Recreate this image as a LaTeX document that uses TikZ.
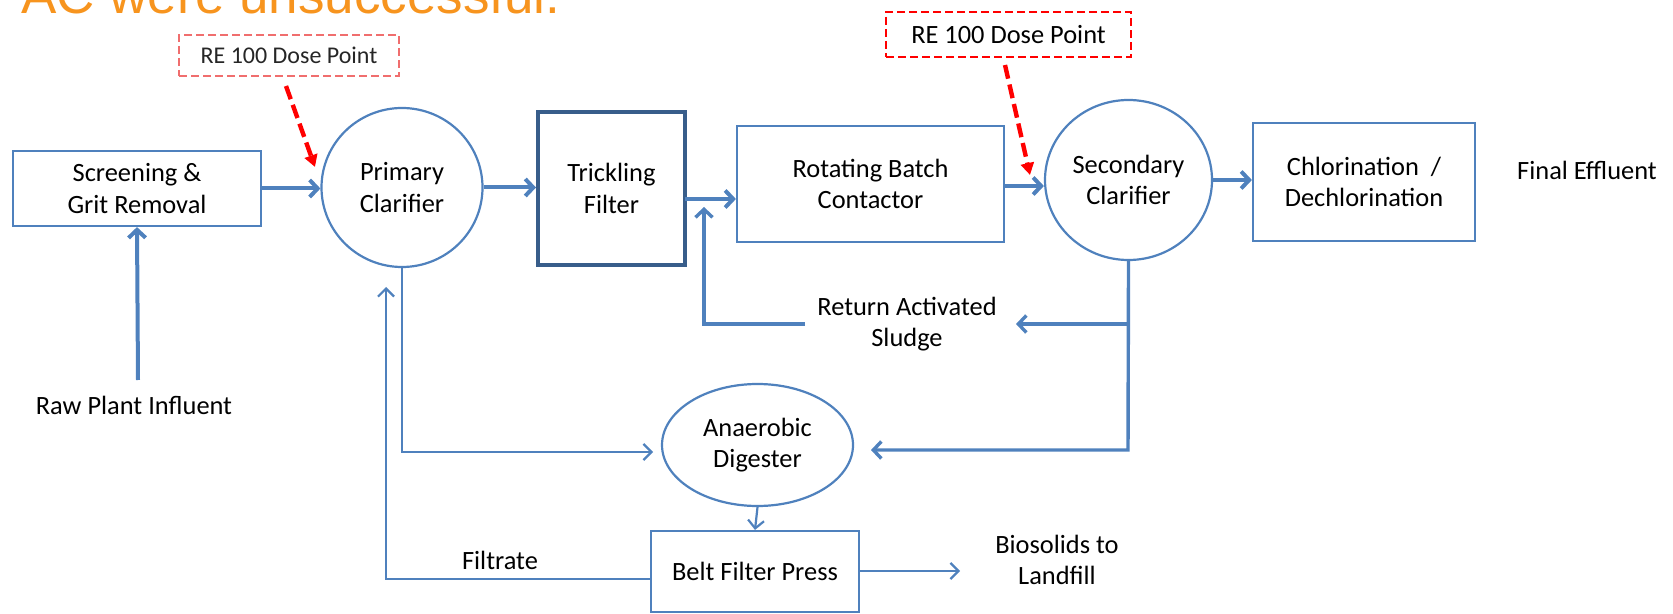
\documentclass[tikz,border=0pt]{standalone}
\usepackage{fontspec}
\setmainfont{Carlito}
\newfontfamily\titlefont{Liberation Sans}
\usetikzlibrary{arrows.meta,shapes.geometric}
\definecolor{flow}{RGB}{79,129,189}
\definecolor{darkflow}{RGB}{56,93,138}
\definecolor{ttl}{RGB}{247,148,30}
\definecolor{fadedred}{RGB}{240,110,110}
\begin{document}
\begin{tikzpicture}[x=0.5pt,y=-0.5pt,
  lbl/.style={font=\fontsize{13.2}{15.8}\selectfont, align=center, text=black},
  proc/.style={draw=flow, line width=1.1pt, fill=white, inner sep=0pt, lbl},
  circ/.style={ellipse, proc},
  mainflow/.style={draw=flow, line width=2pt, -{Straight Barb[length=4pt,width=8.5pt]}},
  thinflow/.style={draw=flow, line width=1.1pt, -{Straight Barb[length=4pt,width=8pt]}},
  midflow/.style={draw=flow, line width=1.7pt, -{Straight Barb[length=4pt,width=8.5pt]}},
  doseline/.style={draw=red, line width=2.2pt, dash pattern=on 7pt off 3pt, -{Triangle[length=6pt,width=6.5pt]}},
  dosebox/.style={draw=red, line width=1.3pt, dash pattern=on 4pt off 2pt, inner sep=0pt, lbl}
]
\useasboundingbox (0,0) rectangle (1673,614);

% title (cut off at the top, as in the reference)
\node[anchor=base west, inner sep=0pt, text=ttl, font=\titlefont\fontsize{26.5}{30}\selectfont] (title) at (21,14) {AC were unsuccessful.};

% process units
\node[proc, minimum width=124pt, minimum height=37.5pt] (scr) at (137,188.5) {Screening \&\\Grit Removal};
\node[circ, minimum width=80.5pt, minimum height=79.5pt] (pc) at (402,187.5) {Primary\\Clarifier};
\node[proc, draw=darkflow, line width=2pt, minimum width=73.5pt, minimum height=76.5pt] (tf) at (611.5,188.5) {Trickling\\Filter};
\node[proc, minimum width=133.5pt, minimum height=58pt] (rbc) at (870.5,184) {Rotating Batch\\Contactor};
\node[circ, minimum width=83.5pt, minimum height=80pt] (sc) at (1128.5,180) {Secondary\\Clarifier};
\node[proc, minimum width=111pt, minimum height=59pt] (chl) at (1364,182) {Chlorination\ \ /\\Dechlorination};
\node[lbl] (fe) at (1587,170) {Final Effluent};
\node[circ, minimum width=95.5pt, minimum height=61pt] (dig) at (757.5,445) {Anaerobic\\Digester};
\node[proc, minimum width=104pt, minimum height=40.5pt] (bfp) at (755,571.5) {Belt Filter Press};

% labels
\node[lbl] (raw) at (134,405) {Raw Plant Influent};
\node[lbl] (ras) at (907,324) {Return Activated\\Sludge};
\node[lbl] (bio) at (1057,560) {Biosolids to\\Landfill};
\node[lbl] (filt) at (500,560) {Filtrate};

% dose points
\node[dosebox, draw=fadedred, minimum width=110pt, minimum height=20.5pt, font=\fontsize{12}{14}\selectfont, text=black!85] (dose1) at (289,55.5) {RE 100\ Dose Point};
\node[dosebox, minimum width=122.5pt, minimum height=22.5pt] (dose2) at (1008.5,34.5) {RE 100 Dose Point};

% coordinates
\coordinate (rawtop) at (138,380);
\coordinate (tfout) at (685,199);
\coordinate (rbcout) at (1004,186);
\coordinate (rasend) at (805,324);
\coordinate (rascorner) at (704,324);
\coordinate (rastip) at (704,207);
\coordinate (scturn) at (1128,450);
\coordinate (scbranch) at (1128,324);
\coordinate (rastip2) at (1016,324);
\coordinate (digtip) at (871,450);
\coordinate (pcturn) at (402,452);
\coordinate (digtip2) at (653,452);
\coordinate (filtstart) at (651,579);
\coordinate (filtcorner) at (386,579);
\coordinate (filttip) at (386,287);
\coordinate (biotip) at (960,571);
\coordinate (bfpout) at (859,571);
\coordinate (d1start) at (286,86);
\coordinate (d1tip) at (315,167);
\coordinate (d2start) at (1005,65);
\coordinate (d2tip) at (1030,175);

% main flow
\draw[mainflow] (rawtop) -- (scr.south);
\draw[mainflow] (scr.east) -- (scr.east -| pc.west);
\draw[mainflow] (pc.east) -- (pc.east -| tf.west);
\draw[mainflow] (tfout) -- (tfout -| rbc.west);
\draw[mainflow] (rbcout) -- (rbcout -| sc.west);
\draw[mainflow] (sc.east) -- (sc.east -| chl.west);

% return activated sludge
\draw[midflow] (rasend) -- (rascorner) -- (rastip);
\draw[midflow] (sc.south) -- (scturn) -- (digtip);
\draw[midflow] (scbranch) -- (rastip2);

% solids handling
\draw[thinflow] (pc.south) -- (pcturn) -- (digtip2);
\draw[thinflow] (dig.south) -- (bfp.north);
\draw[thinflow] (bfpout) -- (biotip);
\draw[thinflow] (filtstart) -- (filtcorner) -- (filttip);

% dose arrows
\draw[doseline] (d1start) -- (d1tip);
\draw[doseline] (d2start) -- (d2tip);
\end{tikzpicture}
\end{document}
